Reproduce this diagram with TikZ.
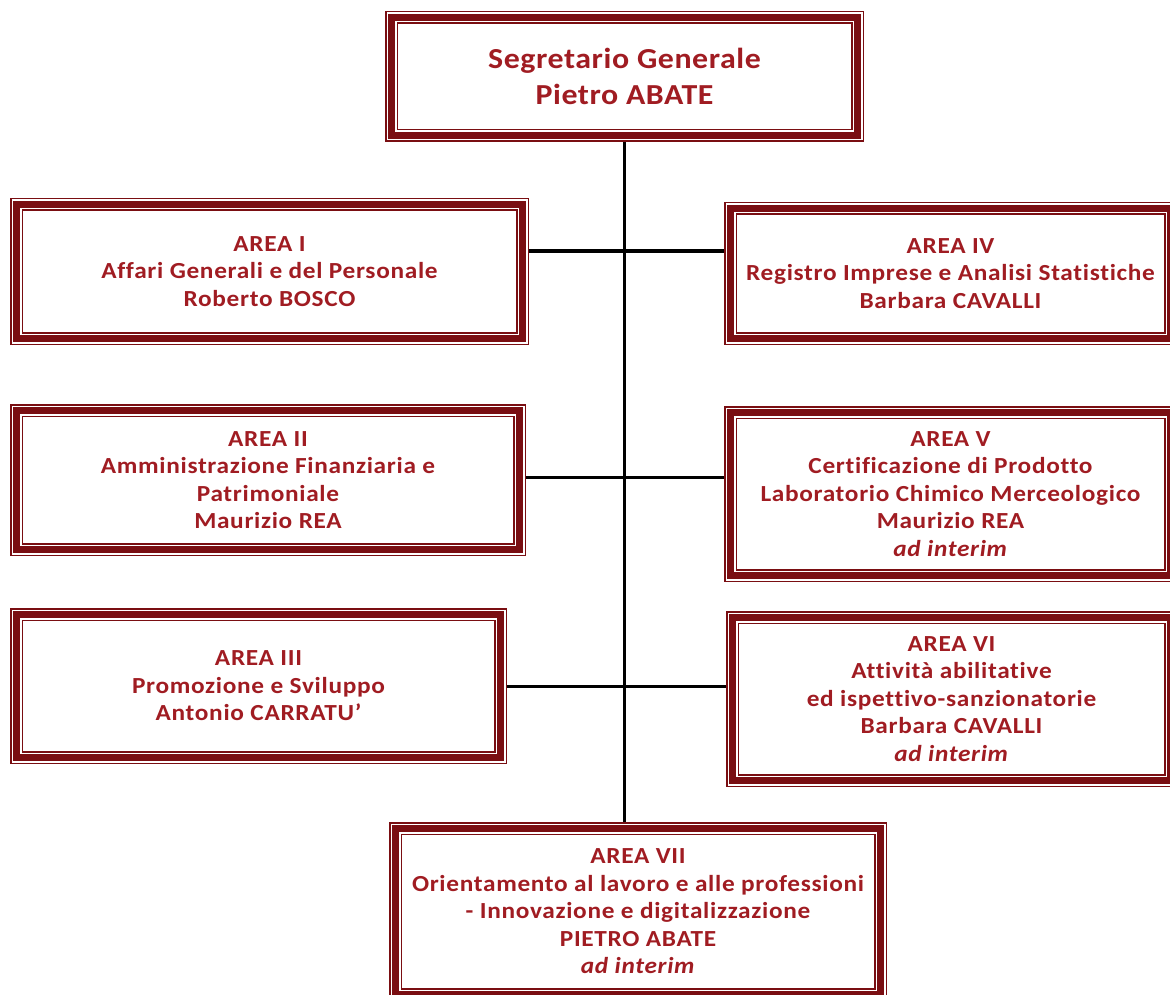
\documentclass[tikz,border=0pt]{standalone}
\usepackage{fontspec}
\setmainfont{Carlito}[FakeStretch=1.1, LetterSpace=3, Ligatures=NoCommon]
\newfontfamily\topfont{Carlito}[FakeStretch=1.1, LetterSpace=2, Ligatures=NoCommon]
\definecolor{framered}{RGB}{122,14,18}
\definecolor{textred}{RGB}{160,28,34}
\tikzset{
  framebox/.style={preaction={draw=framered, line width=13pt}, draw=white, line width=10pt,
    postaction={draw=framered, line width=6.6pt}, outer sep=6.5pt, inner sep=0pt,
    text=textred, font=\bfseries\fontsize{23}{27.5}\selectfont, align=center, anchor=center},
  topbox/.style={framebox, font=\topfont\bfseries\fontsize{29}{36}\selectfont},
  link/.style={draw=black, line width=3pt}
}
\begin{document}
\begin{tikzpicture}[x=1pt,y=-1pt]
\useasboundingbox (0,0) rectangle (1170,995);
\node[topbox, minimum width=466pt, minimum height=118pt] (top) at (624.5,76.5)
  {Segretario Generale\\Pietro ABATE};
\node[framebox, minimum width=506pt, minimum height=134pt] (a1) at (269.5,271.5)
  {AREA I\\Affari Generali e del Personale\\Roberto BOSCO};
\node[framebox, minimum width=440pt, minimum height=130pt] (a4) at (950.5,273.5)
  {AREA IV\\Registro Imprese e Analisi Statistiche\\Barbara CAVALLI};
\node[framebox, minimum width=503pt, minimum height=139pt] (a2) at (268,480)
  {AREA II\\Amministrazione Finanziaria e\\Patrimoniale\\Maurizio REA};
\node[framebox, minimum width=440pt, minimum height=163pt] (a5) at (950.5,494)
  {AREA V\\Certificazione di Prodotto\\Laboratorio Chimico Merceologico\\Maurizio REA\\\textit{ad interim}};
\node[framebox, minimum width=484pt, minimum height=143pt] (a3) at (258.5,686)
  {AREA III\\Promozione e Sviluppo\\Antonio CARRATU’};
\node[framebox, minimum width=438pt, minimum height=163pt] (a6) at (951.5,699)
  {AREA VI\\Attività abilitative\\ed ispettivo-sanzionatorie\\Barbara CAVALLI\\\textit{ad interim}};
\node[framebox, minimum width=485pt, minimum height=166pt] (a7) at (638,911.5)
  {AREA VII\\Orientamento al lavoro e alle professioni\\- Innovazione e digitalizzazione\\PIETRO ABATE\\\textit{ad interim}};
\coordinate (j1) at (624.5,251);
\coordinate (j2) at (624.5,477);
\coordinate (j3) at (624.5,686);
\draw[link] (top.south) -- (top.south |- a7.north);
\draw[link] (a1.east |- j1) -- (a4.west |- j1);
\draw[link] (a2.east |- j2) -- (a5.west |- j2);
\draw[link] (a3.east |- j3) -- (a6.west |- j3);
\end{tikzpicture}
\end{document}
